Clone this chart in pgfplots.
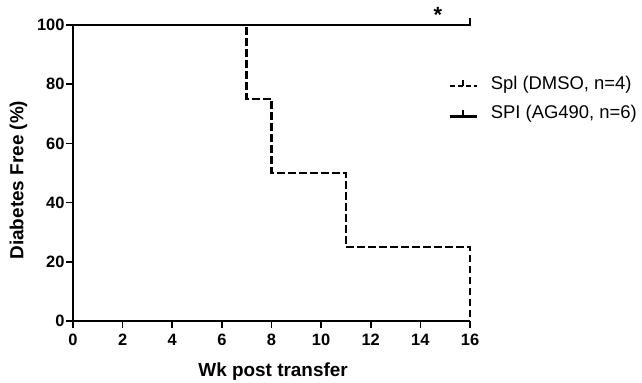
\documentclass[border=0pt]{standalone}
\usepackage{fontspec}
\setmainfont{Liberation Sans}
\usepackage{pgfplots}
\pgfplotsset{compat=1.18}
\begin{document}
\begin{tikzpicture}
\begin{axis}[
  scale only axis, width=397bp, height=296bp,
  xmin=0, xmax=16, ymin=0, ymax=100,
  xtick={0,2,...,16}, ytick={0,20,...,100},
  axis lines=left, axis line style={line width=2bp,-},
  tick align=outside, major tick length=7bp,
  tick style={line width=1.6bp, black},
  xtick pos=bottom, ytick pos=left,
  tick label style={font=\fontsize{16.5}{19}\selectfont\bfseries},
  xticklabel style={yshift=-2.5bp},
  yticklabel style={xshift=2bp},
  /pgf/number format/assume math mode=true,
  xlabel={Wk post transfer}, ylabel={Diabetes Free (\%)},
  label style={font=\fontsize{19}{22}\selectfont\bfseries},
  xlabel style={at={(axis description cs:0.504,-0.189)}, anchor=base},
  ylabel style={at={(axis description cs:-0.1373,0.476)}, anchor=center},
  clip=false,
  legend style={draw=none, fill=none, at={(axis description cs:0.9446,0.831)}, anchor=north west,
    font=\fontsize{18.5}{21}\selectfont, row sep=12.5bp, inner sep=0pt,
    nodes={inner sep=1bp},
    /tikz/every odd column/.append style={column sep=12bp}},
  legend cell align=left,
]
\addplot[black, line width=2.4bp, dash pattern=on 7.5bp off 3.5bp,
  legend image code/.code={\draw[black, line width=2.2bp, dash pattern=on 5bp off 3bp] (0bp,-2bp) -- (27bp,-2bp);
    \draw[black, line width=1.6bp] (13.5bp,-2bp) -- (13.5bp,4bp);}]
  coordinates {(0,100) (7,100) (7,75) (8,75) (8,50) (11,50) (11,25) (16,25) (16,0)};
\addlegendentry{Spl (DMSO, n=4)}
\addplot[black, line width=2.4bp,
  legend image code/.code={\draw[black, line width=2.6bp] (0bp,-3.5bp) -- (27bp,-3.5bp);
    \draw[black, line width=1.6bp] (13.5bp,-3.5bp) -- (13.5bp,2.5bp);}]
  coordinates {(0,100) (16,100)};
\addlegendentry{SPI (AG490, n=6)}
\addplot[black, line width=1.6bp, forget plot] coordinates {(16,99.5) (16,102.3)};
\node[font=\fontsize{22}{24}\selectfont\bfseries] at (axis cs:14.71,103.3) {*};
\end{axis}
\pgfresetboundingbox
\path (-73bp,-62bp) rectangle (569bp,321bp);
\end{tikzpicture}
\end{document}
